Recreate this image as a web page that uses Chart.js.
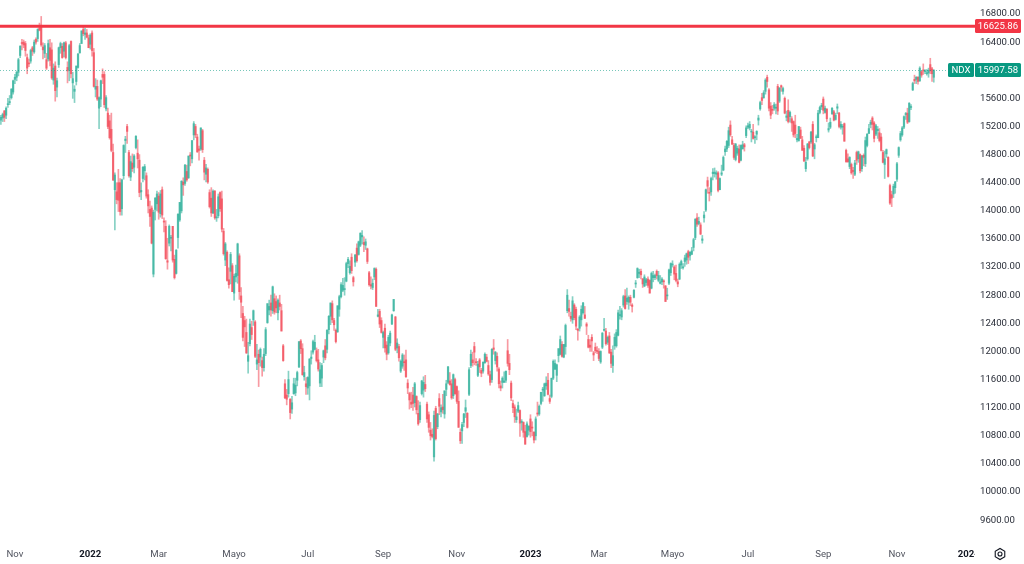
<!DOCTYPE html>
<html><head><meta charset="utf-8">
<script src="https://cdn.jsdelivr.net/npm/chart.js@4.4.1/dist/chart.umd.min.js"></script>
<style>html,body{margin:0;padding:0;background:#fff;overflow:hidden}canvas{display:block}</style>
</head><body>
<canvas id="c" width="1024" height="564"></canvas>
<script>
// ---------- data ----------
const symbol = 'NDX';
const lastPrice = 15997.58;
const levelPrice = 16625.86;
const priceTicks = [9600,10000,10400,10800,11200,11600,12000,12400,12800,13200,13600,14000,14400,14800,15200,15600,16000,16400,16800];
const monthNames = ['Ene','Feb','Mar','Abr','Mayo','Jun','Jul','Ago','Sep','Oct','Nov','Dic'];
const labelMonths = [0,2,4,6,8,10];
const firstSession = [2021, 9, 20];
const sessionCount = 556;
const holidays = ['2021-11-25','2021-12-24','2022-01-17','2022-02-21','2022-04-15','2022-05-30','2022-06-20','2022-07-04','2022-09-05','2022-11-24','2022-12-26','2023-01-02','2023-01-16','2023-02-20','2023-04-07','2023-05-29','2023-06-19','2023-07-04','2023-09-04','2023-11-23','2023-12-25','2024-01-01'];

// [open, high, low, close]
const ohlc2021 = [
// Oct
[15290,15360,15230,15330],[15320,15390,15270,15370],[15420,15430,15270,15330],[15360,15480,15310,15460],[15510,15600,15470,15520],[15540,15640,15510,15550],[15610,15740,15590,15730],[15690,15860,15660,15850],
// Nov
[15870,15940,15810,15900],[15900,15990,15850,15970],[15970,16170,15920,16150],[16210,16350,16180,16340],[16390,16440,16290,16380],[16400,16430,16320,16360],[16380,16410,16200,16280],[16180,16230,15950,16030],[16100,16160,16050,16090],[16130,16300,16100,16280],[16320,16340,16210,16270],[16260,16430,16240,16400],[16440,16460,16370,16400],[16450,16590,16410,16580],[16600,16670,16560,16570],[16640,16765,16340,16360],[16330,16390,16160,16290],[16240,16380,16180,16350],[16150,16240,16010,16030],[16160,16430,16130,16380],[16320,16440,16060,16140],
// Dec
[16290,16390,15870,15890],[15860,16090,15800,16030],[16060,16120,15560,15710],[15760,15890,15620,15850],[16080,16330,16040,16320],[16320,16400,16240,16380],[16340,16380,16170,16180],[16270,16400,16190,16390],[16390,16410,16160,16180],[16040,16120,15820,15990],[16000,16370,15850,16350],[16410,16420,15890,15950],[15820,15970,15600,15880],[15700,15780,15540,15730],[15840,16060,15790,16060],[16040,16240,16030,16230],[16250,16380,16240,16350],[16380,16560,16380,16560],[16580,16610,16490,16520],[16510,16600,16440,16530],[16530,16580,16460,16470],[16460,16500,16320,16320]
];
const ohlc2022 = [
// Jan
[16370,16520,16300,16500],[16530,16560,16200,16280],[16250,16310,15760,15770],[15730,15880,15620,15770],[15770,15860,15570,15590],[15460,15620,15170,15610],[15590,15860,15480,15850],[15940,16020,15810,15900],[15940,15980,15470,15510],[15450,15640,15420,15610],[15390,15460,15170,15200],[15280,15360,15020,15040],[15160,15390,14840,14860],[14830,14950,14430,14440],[14300,14540,13730,14510],[14270,14400,14100,14160],[14400,14590,13990,14150],[14400,14460,13940,13990],[14030,14450,13940,14440],[14500,14940,14450,14930],
// Feb
[15000,15060,14830,15020],[15200,15230,14960,15130],[14830,14860,14480,14500],[14480,14780,14430,14700],[14680,14810,14560,14600],[14620,14800,14540,14780],[14900,15070,14880,15060],[14820,15010,14610,14740],[14720,14800,14200,14260],[14270,14400,14160,14290],[14460,14630,14410,14620],[14570,14660,14440,14630],[14500,14540,14180,14210],[14230,14300,13970,14070],[14020,14140,13780,13920],[14040,14070,13530,13540],[13100,14010,13060,13980],[14020,14190,13870,14180],[14100,14280,14000,14240],
// Mar
[14210,14260,13880,13980],[13960,14290,13910,14240],[14300,14340,13890,13940],[13850,13900,13700,13840],[13780,13860,13310,13320],[13290,13610,13170,13270],[13540,13800,13500,13780],[13610,13650,13430,13620],[13780,13780,13270,13300],[13310,13370,13030,13050],[13110,13450,13100,13440],[13620,13960,13470,13950],[13870,14120,13850,14120],[14000,14430,13970,14420],[14410,14470,14220,14370],[14390,14660,14360,14650],[14560,14650,14420,14440],[14470,14780,14460,14780],[14790,14830,14640,14780],[14740,15000,14680,15000],[15080,15270,15010,15240],[15200,15230,15040,15080],[15050,15090,14830,14840],
// Apr
[14880,14920,14720,14860],[14880,15180,14860,15180],[15140,15160,14830,14870],[14720,14760,14440,14550],[14520,14660,14410,14610],[14590,14610,14390,14410],[14260,14300,14040,14060],[14180,14330,13920,13970],[13970,14300,13960,14280],[14280,14290,13880,13900],[13900,14020,13850,13910],[13930,14240,13900,14200],[14260,14270,13990,14030],[14170,14280,13700,13740],[13710,13750,13370,13390],[13300,13550,13220,13530],[13410,13430,13000,13010],[13020,13190,12900,12950],[13140,13410,12960,13380],[13220,13250,12850,12850],
// May
[12830,13100,12730,13070],[13060,13230,12990,13110],[13080,13540,12970,13530],[13360,13390,12740,12850],[12790,12910,12480,12700],[12540,12640,12150,12200],[12440,12500,12070,12350],[12270,12460,11970,11980],[11860,12130,11690,11940],[12110,12460,12080,12390],[12340,12430,12170,12240],[12450,12590,12370,12580],[12420,12440,11910,11930],[11820,12100,11740,11880],[11960,12020,11500,11840],[11920,12050,11790,12030],[11870,11920,11650,11770],[11770,12040,11720,11960],[11970,12340,11940,12310],[12410,12680,12400,12680],[12590,12730,12520,12640],
// Jun
[12690,12800,12500,12590],[12580,12930,12540,12920],[12750,12820,12530,12560],[12710,12790,12550,12620],[12550,12750,12450,12730],[12690,12800,12590,12640],[12580,12670,12290,12290],[12080,12100,11860,11870],[11540,11600,11330,11340],[11380,11460,11240,11320],[11400,11720,11350,11600],[11320,11330,11040,11130],[11180,11360,11120,11270],[11400,11620,11390,11540],[11410,11620,11370,11520],[11590,11720,11510,11700],[11780,12140,11770,12140],[12150,12170,11970,12040],[12040,12110,11660,11670],[11640,11790,11590,11700],[11540,11630,11390,11500],
// Jul
[11480,11640,11390,11630],[11510,11900,11310,11890],[11900,12010,11820,11920],[11990,12160,11960,12140],[12030,12230,12020,12130],[12010,12050,11850,11870],[11880,12030,11720,11750],[11550,11840,11500,11740],[11620,11830,11500,11800],[11920,12020,11840,12010],[12080,12170,11880,11910],[12030,12310,11980,12300],[12310,12510,12250,12500],[12500,12690,12380,12690],[12680,12720,12410,12450],[12440,12470,12300,12380],[12300,12320,12120,12140],[12280,12650,12270,12650],[12600,12800,12500,12780],[12780,12980,12760,12950],
// Aug
[12870,13040,12850,12940],[12880,13050,12800,12890],[13000,13270,12990,13250],[13250,13340,13190,13310],[13120,13290,13100,13210],[13340,13390,13110,13150],[13050,13070,12930,12990],[13270,13380,13210,13370],[13470,13530,13270,13290],[13380,13570,13370,13560],[13510,13690,13490,13680],[13630,13720,13530,13650],[13550,13630,13420,13520],[13510,13600,13450,13560],[13460,13470,13250,13280],[13120,13140,12930,12950],[12950,13060,12890,12930],[12910,13030,12880,12970],[13060,13190,13020,13180],[13170,13190,12640,12640],[12500,12600,12490,12520],[12570,12600,12340,12390],[12440,12480,12260,12270],
// Sep
[12200,12290,12050,12270],[12330,12390,11990,12050],[12090,12140,11880,11960],[11980,12230,11960,12200],[12120,12290,12080,12260],[12390,12530,12380,12520],[12580,12740,12570,12740],[12490,12500,12010,12030],[12050,12180,11980,12120],[12070,12100,11860,11910],[11720,11880,11700,11860],[11790,11970,11760,11950],[11850,11950,11730,11840],[11880,12020,11630,11640],[11550,11600,11400,11480],[11400,11420,11180,11310],[11280,11420,11200,11250],[11380,11490,11160,11260],[11270,11560,11210,11540],[11360,11370,11110,11170],[11120,11300,10950,10970],
// Oct
[11030,11280,10990,11230],[11400,11590,11380,11580],[11450,11640,11350,11560],[11530,11660,11430,11470],[11250,11280,10990,11040],[11100,11140,10850,10920],[10880,10990,10740,10800],[10820,10900,10770,10790],[10500,11150,10440,11090],[11190,11220,10740,10760],[10930,11120,10900,11110],[11330,11400,11100,11220],[11140,11240,11070,11200],[11210,11390,11120,11170],[11110,11440,11050,11440],[11460,11590,11370,11540],[11560,11790,11540,11780],[11580,11700,11520,11530],[11540,11600,11320,11340],[11370,11680,11330,11670],[11600,11620,11390,11400],
// Nov
[11500,11510,11260,11290],[11290,11440,10920,10920],[10850,10900,10690,10730],[10870,10990,10690,10960],[10990,11120,10930,11110],[11150,11310,11060,11200],[11120,11130,10910,10920],[11390,11770,11370,11740],[11800,12020,11770,11960],[11880,11990,11790,11840],[12070,12130,11810,11990],[11850,11900,11800,11840],[11660,11860,11640,11820],[11880,11900,11700,11780],[11730,11760,11640,11690],[11720,11850,11690,11850],[11840,11980,11830,11960],[11920,11960,11850,11860],[11800,11870,11660,11680],[11670,11720,11520,11560],[11600,12040,11560,12030],
// Dec
[12050,12170,11960,12030],[11870,12000,11820,11990],[11930,11980,11720,11780],[11750,11770,11480,11540],[11510,11580,11440,11480],[11560,11640,11480,11620],[11560,11710,11560,11580],[11590,11720,11560,11720],[12010,12170,11790,11830],[11830,11960,11670,11740],[11550,11580,11300,11340],[11260,11310,11130,11200],[11210,11240,10990,11070],[11030,11180,10990,11070],[11150,11280,11130,11230],[11160,11170,10790,10980],[10990,11030,10880,11000],[10990,11000,10780,10850],[10860,10950,10680,10680],[10790,11000,10780,10970],[10880,10940,10810,10940]
];
const ohlc2023 = [
// Jan
[11040,11100,10780,10860],[10920,11000,10800,10910],[10850,10860,10700,10740],[10800,11070,10740,11040],[11120,11280,11080,11110],[11110,11240,11090,11220],[11260,11420,11240,11420],[11450,11490,11290,11460],[11370,11550,11360,11540],[11510,11640,11460,11550],[11590,11690,11380,11390],[11330,11380,11260,11290],[11360,11620,11340,11620],[11620,11880,11600,11860],[11750,11880,11740,11830],[11660,11820,11570,11810],[11940,12040,11850,12040],[11960,12220,11950,12170],[12100,12140,11920,11930],[11920,12100,11910,12100],
// Feb
[12070,12390,11960,12370],[12580,12880,12550,12800],[12610,12730,12500,12570],[12500,12560,12430,12470],[12450,12780,12400,12720],[12660,12680,12450,12480],[12600,12630,12310,12360],[12310,12330,12160,12300],[12330,12510,12290,12490],[12450,12650,12360,12600],[12550,12700,12530,12690],[12520,12640,12470,12470],[12390,12410,12240,12360],[12170,12230,12050,12060],[12090,12170,12000,12060],[12200,12240,12000,12150],[11980,12000,11870,11950],[12060,12120,11980,12010],[12010,12070,11970,12000],
// Mar
[12000,12040,11870,11900],[11850,12010,11830,12000],[12060,12270,12040,12260],[12300,12470,12290,12300],[12290,12330,12090,12110],[12130,12220,12100,12200],[12220,12270,11970,11980],[11990,12030,11770,11830],[11800,12080,11700,11940],[12080,12250,12030,12200],[12080,12310,12060,12270],[12230,12590,12220,12550],[12510,12640,12460,12520],[12490,12610,12450,12580],[12660,12800,12630,12780],[12790,12880,12600,12610],[12710,12900,12670,12760],[12700,12790,12600,12770],[12770,12800,12650,12700],[12660,12680,12560,12640],[12770,12880,12760,12870],[12960,13010,12910,12970],[13050,13190,13040,13180],
// Apr
[13110,13170,13050,13120],[13140,13170,13030,13090],[13030,13040,12910,12960],[12930,13090,12920,13060],[12980,13040,12940,13020],[13030,13060,12910,12940],[13010,13020,12830,12830],[12900,13130,12890,13110],[13050,13140,12990,13080],[13050,13100,13020,13080],[13140,13160,13030,13080],[13010,13140,12990,13080],[12970,13080,12960,12990],[12990,13050,12950,13030],[13000,13020,12900,12990],[12930,12940,12710,12710],[12790,12900,12740,12790],[12970,13170,12950,13160],[13120,13260,13080,13250],
// May
[13230,13290,13200,13230],[13200,13220,13020,13100],[13110,13230,12990,13010],[12990,13030,12920,12960],[13030,13260,13020,13240],[13230,13300,13180,13280],[13190,13250,13170,13190],[13280,13370,13210,13330],[13300,13400,13240,13390],[13420,13440,13250,13340],[13360,13420,13300,13410],[13380,13480,13380,13430],[13480,13610,13430,13590],[13620,13890,13590,13880],[13900,13960,13780,13810],[13820,13910,13800,13850],[13800,13830,13660,13670],[13580,13650,13540,13600],[13900,13990,13840,13940],[14010,14310,13990,14300],[14430,14480,14250,14350],[14260,14330,14140,14250],
// Jun
[14270,14480,14220,14460],[14530,14600,14440,14550],[14530,14610,14480,14550],[14520,14570,14450,14540],[14540,14560,14270,14290],[14300,14470,14300,14460],[14520,14650,14500,14540],[14580,14780,14570,14760],[14840,14920,14790,14880],[14880,15000,14840,14990],[14930,15190,14900,15140],[15220,15280,15060,15080],[15010,15060,14940,14950],[14930,14960,14730,14760],[14730,14960,14710,14950],[14820,14920,14790,14890],[14880,14940,14680,14690],[14720,14940,14710,14930],[14880,14990,14880,14940],[14940,14960,14850,14910],[15070,15210,15040,15180],
// Jul
[15190,15250,15170,15210],[15180,15270,15150,15230],[15120,15160,14980,15120],[15120,15230,15020,15030],[15040,15070,14960,15050],[15090,15140,15010,15130],[15290,15360,15220,15320],[15450,15560,15430,15540],[15610,15670,15510,15570],[15610,15710,15600,15680],[15700,15880,15660,15860],[15900,15930,15760,15840],[15720,15740,15420,15460],[15490,15540,15310,15360],[15440,15500,15380,15430],[15460,15540,15430,15510],[15460,15520,15380,15460],[15770,15800,15370,15420],[15560,15750,15540,15750],[15780,15790,15700,15760],
// Aug
[15700,15760,15660,15740],[15600,15620,15380,15390],[15330,15420,15280,15350],[15430,15580,15250,15270],[15340,15420,15260,15400],[15310,15340,15130,15250],[15270,15280,15050,15080],[15220,15360,15040,15100],[15010,15090,14980,15030],[15000,15200,14990,15200],[15150,15190,15030,15030],[15010,15060,14860,14860],[14890,14930,14700,14710],[14600,14760,14560,14690],[14740,14960,14720,14950],[14980,14990,14880,14900],[14980,15130,14960,15120],[15230,15270,14770,14780],[14880,14960,14740,14940],[15040,15080,14980,15050],[15040,15430,15040,15390],[15400,15490,15380,15470],[15480,15530,15440,15500],
// Sep
[15590,15620,15380,15430],[15400,15490,15390,15460],[15450,15450,15270,15310],[15150,15250,15120,15170],[15190,15320,15170,15260],[15380,15470,15370,15460],[15410,15430,15280,15290],[15300,15390,15290,15360],[15460,15520,15380,15480],[15390,15400,15180,15200],[15190,15270,15160,15230],[15190,15230,15090,15200],[15240,15250,14990,14990],[14860,14880,14690,14700],[14740,14810,14690,14700],[14630,14770,14600,14760],[14660,14680,14520,14540],[14570,14620,14460,14560],[14520,14720,14500,14680],[14830,14850,14660,14720],
// Oct
[14740,14850,14690,14840],[14800,14810,14540,14570],[14600,14790,14560,14780],[14790,14810,14640,14760],[14670,15050,14630,15000],[14930,15100,14910,15090],[15100,15230,15100,15170],[15230,15290,15180,15260],[15320,15340,15150,15230],[15250,15270,14980,15030],[15090,15230,15070,15210],[15140,15200,15030,15160],[15110,15170,14980,15000],[15050,15100,14850,14860],[14830,14860,14680,14690],[14660,14850,14460,14740],[14810,14880,14760,14870],[14760,14770,14480,14490],[14360,14380,14090,14110],[14230,14280,14060,14180],[14240,14380,14190,14350],[14330,14420,14250,14410],
// Nov
[14450,14690,14420,14670],[14790,14910,14760,14900],[15010,15130,14990,15100],[15080,15200,15060,15180],[15190,15350,15170,15340],[15370,15400,15300,15370],[15390,15460,15240,15260],[15270,15540,15260,15530],[15470,15510,15440,15480],[15720,15830,15710,15810],[15870,15930,15810,15850],[15870,15910,15810,15900],[15900,15910,15800,15840],[15850,16050,15840,16030],[15980,15990,15900,15930],[16000,16090,15940,15990],[15980,16010,15950,15980],[15950,16010,15930,15960],[15960,16030,15900,16000],[16080,16170,15950,15990],[16020,16040,15840,15950],
// Dec
[15900,16010,15830,15997.58]
];

// ---------- build ----------
const bars = [...ohlc2021, ...ohlc2022, ...ohlc2023];
const opens = bars.map(b => b[0]);
const highs = bars.map(b => b[1]);
const lows = bars.map(b => b[2]);
const closes = bars.map(b => b[3]);

const dates = [];
{
  const d = new Date(Date.UTC(firstSession[0], firstSession[1], firstSession[2]));
  while (dates.length < sessionCount) {
    const dow = d.getUTCDay();
    const iso = d.toISOString().slice(0, 10);
    if (dow !== 0 && dow !== 6 && !holidays.includes(iso)) dates.push(iso);
    d.setUTCDate(d.getUTCDate() + 1);
  }
}
const tickLabels = dates.map((iso, i) => {
  if (i === 0) return '';
  const m = +iso.slice(5, 7) - 1, pm = +dates[i - 1].slice(5, 7) - 1;
  if (m === pm || !labelMonths.includes(m)) return '';
  return m === 0 ? iso.slice(0, 4) : monthNames[m];
});

const UP = '#089981', DOWN = '#f23645';
const UP_BAR = 'rgba(34,171,148,0.62)', DOWN_BAR = 'rgba(242,54,69,0.58)';
const UP_WICK = 'rgba(34,171,148,0.55)', DOWN_WICK = 'rgba(242,54,69,0.5)';
const wickData = dates.map((_, i) => i < bars.length ? [lows[i], highs[i]] : null);
const bodyData = dates.map((_, i) => i < bars.length ? [opens[i], closes[i]] : null);
const isUp = dates.map((_, i) => i < bars.length && closes[i] >= opens[i]);
const bodyColors = isUp.map(u => u ? UP_BAR : DOWN_BAR);
const wickColors = isUp.map(u => u ? UP_WICK : DOWN_WICK);

const FONT = 'Roboto, "Liberation Sans", sans-serif';
const AXIS_W = 49, TIME_H = 24;

function roundRect(ctx, x, y, w, h, r) {
  ctx.beginPath();
  ctx.moveTo(x + r, y); ctx.lineTo(x + w - r, y); ctx.quadraticCurveTo(x + w, y, x + w, y + r);
  ctx.lineTo(x + w, y + h - r); ctx.quadraticCurveTo(x + w, y + h, x + w - r, y + h);
  ctx.lineTo(x + r, y + h); ctx.quadraticCurveTo(x, y + h, x, y + h - r);
  ctx.lineTo(x, y + r); ctx.quadraticCurveTo(x, y, x + r, y); ctx.closePath();
}

const overlay = {
  id: 'overlay',
  afterDatasetsDraw(chart) {
    const {ctx, chartArea: a, scales: {y}} = chart;
    ctx.save();
    const yl = Math.round(y.getPixelForValue(lastPrice)) + 0.5;
    ctx.strokeStyle = 'rgba(8,153,129,0.55)';
    ctx.lineWidth = 1;
    ctx.setLineDash([1, 2]);
    ctx.beginPath(); ctx.moveTo(a.left, yl); ctx.lineTo(a.right - 27, yl); ctx.stroke();
    ctx.setLineDash([]);
    const yr = y.getPixelForValue(levelPrice);
    ctx.strokeStyle = '#f23645';
    ctx.lineWidth = 3;
    ctx.beginPath(); ctx.moveTo(a.left, yr); ctx.lineTo(a.right, yr); ctx.stroke();
    ctx.restore();
  },
  afterDraw(chart) {
    const {ctx, chartArea: a, scales: {y}, width, height} = chart;
    ctx.save();
    ctx.fillStyle = '#fff';
    ctx.fillRect(a.right, a.bottom + 1, width - a.right, height - a.bottom);
    ctx.font = '9.6px ' + FONT;
    ctx.textBaseline = 'middle';
    ctx.textAlign = 'center';
    const yr = y.getPixelForValue(levelPrice);
    ctx.fillStyle = '#f23645';
    roundRect(ctx, a.right, Math.round(yr) - 7, 46, 14, 1.5); ctx.fill();
    ctx.fillStyle = '#fff';
    ctx.fillText(levelPrice.toFixed(2), a.right + 23, yr + 0.5);
    const yl = y.getPixelForValue(lastPrice);
    ctx.fillStyle = UP;
    roundRect(ctx, a.right, Math.round(yl) - 7, 46, 14, 1.5); ctx.fill();
    roundRect(ctx, a.right - 27, Math.round(yl) - 7, 26, 14, 1.5); ctx.fill();
    ctx.fillStyle = '#fff';
    ctx.fillText(lastPrice.toFixed(2), a.right + 23, yl + 0.5);
    ctx.fillText(symbol, a.right - 14, yl + 0.5);
    const gx = 1000, gy = 554;
    ctx.strokeStyle = '#131722';
    ctx.lineWidth = 1.1;
    ctx.beginPath();
    for (let k = 0; k < 6; k++) {
      const ang = Math.PI / 6 + k * Math.PI / 3;
      const px = gx + 5.5 * Math.cos(ang), py = gy + 5.5 * Math.sin(ang);
      k === 0 ? ctx.moveTo(px, py) : ctx.lineTo(px, py);
    }
    ctx.closePath(); ctx.stroke();
    ctx.beginPath(); ctx.arc(gx, gy, 2, 0, Math.PI * 2); ctx.stroke();
    ctx.restore();
  }
};

new Chart(document.getElementById('c').getContext('2d'), {
  type: 'bar',
  data: {
    labels: dates,
    datasets: [
      {data: bodyData, backgroundColor: bodyColors, barThickness: 1.6, grouped: false, order: 0, minBarLength: 1, borderWidth: 0},
      {data: wickData, backgroundColor: wickColors, barThickness: 1, grouped: false, order: 1, borderWidth: 0}
    ]
  },
  options: {
    responsive: false,
    animation: false,
    events: [],
    layout: {padding: 0},
    plugins: {legend: {display: false}, tooltip: {enabled: false}},
    scales: {
      x: {
        type: 'category',
        offset: true,
        grid: {display: false, drawTicks: false},
        border: {display: false},
        ticks: {
          autoSkip: false, maxRotation: 0, minRotation: 0, padding: 9,
          callback: (v, i) => tickLabels[i],
          font: c => ({family: FONT, size: 9.6, weight: /^\d{4}$/.test(c.tick && c.tick.label) ? 'bold' : 'normal'}),
          color: c => /^\d{4}$/.test(c.tick && c.tick.label) ? '#131722' : '#50535e'
        },
        afterFit(s) { s.height = TIME_H; s.paddingLeft = 0; s.paddingRight = 0; }
      },
      y: {
        position: 'right',
        min: 9318, max: 16999,
        grid: {display: false, drawTicks: false},
        border: {display: false},
        afterBuildTicks(s) { s.ticks = priceTicks.map(v => ({value: v})); },
        ticks: {padding: 5, callback: v => Number(v).toFixed(2), font: {family: FONT, size: 9.6}, color: '#2a2e39'},
        afterFit(s) { s.width = AXIS_W; s.paddingTop = 0; s.paddingBottom = 0; }
      }
    }
  },
  plugins: [overlay]
});
</script>
</body></html>
